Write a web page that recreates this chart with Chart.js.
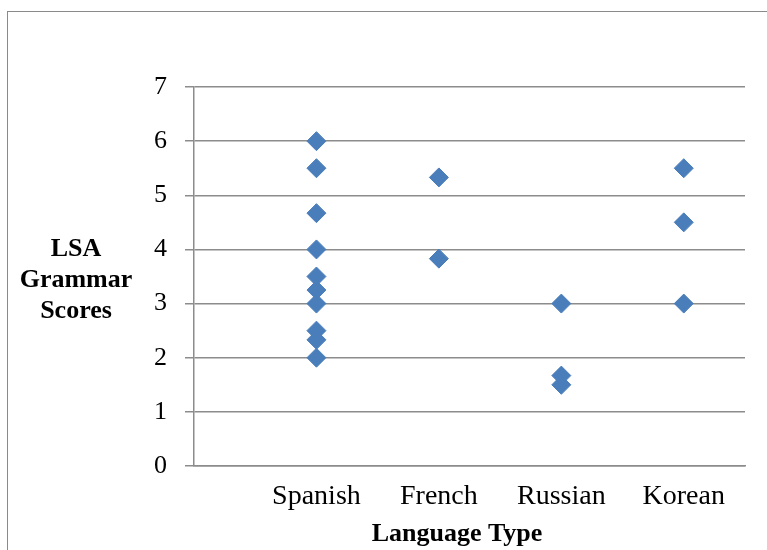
<!DOCTYPE html>
<html>
<head>
  <meta charset="utf-8">
  <title>LSA Grammar Scores by Language Type</title>
  <script src="https://cdn.jsdelivr.net/npm/chart.js@4"></script>
  <style>
    html, body { margin: 0; padding: 0; background: #fff; overflow: hidden; }
    #wrap { position: relative; width: 767px; height: 550px; }
    #frame { position: absolute; left: 7px; top: 11px; width: 820px; height: 600px; border: 1.5px solid #8a8a8a; box-sizing: border-box; }
    canvas { position: absolute; left: 0; top: 0; }
  </style>
</head>
<body>
  <div id="wrap">
    <div id="frame"></div>
    <canvas id="chart" width="767" height="550"></canvas>
  </div>

  <script>
    // Categories on the x axis (placed at 1..4 like Excel's scatter)
    const languages = ['Spanish', 'French', 'Russian', 'Korean'];

    // Scores, one list per language
    const spanish = [6, 5.5, 4.67, 4, 3.5, 3.25, 3, 2.5, 2.33, 2];
    const french = [5.33, 3.83];
    const russian = [3, 1.67, 1.5];
    const korean = [5.5, 4.5, 3];

    const yTicks = [0, 1, 2, 3, 4, 5, 6, 7];
    const yTitle = ['LSA', 'Grammar', 'Scores'];
    const xTitle = 'Language Type';

    const groups = [spanish, french, russian, korean];
    const points = groups.flatMap((vals, i) => vals.map(v => ({ x: i + 1, y: v })));

    const FONT = "'Liberation Serif', 'Times New Roman', serif";
    const GRID = '#8c8c8c';

    // Horizontal y title and the x title, drawn after the chart
    const titles = {
      id: 'titles',
      afterDraw(chart) {
        const ctx = chart.ctx;
        ctx.save();
        ctx.fillStyle = '#000';
        ctx.textAlign = 'center';
        ctx.textBaseline = 'alphabetic';
        ctx.font = `bold 26px ${FONT}`;
        yTitle.forEach((t, i) => ctx.fillText(t, 76, 256 + i * 31));
        ctx.fillText(xTitle, 457, 541);
        ctx.restore();
      }
    };

    new Chart(document.getElementById('chart'), {
      type: 'scatter',
      data: {
        datasets: [{
          label: 'LSA Grammar Scores',
          data: points,
          pointStyle: 'rectRot',
          pointRadius: 9.5,
          pointHoverRadius: 9.5,
          backgroundColor: '#4A7EBB',
          borderColor: '#4A7EBB',
          borderWidth: 1
        }]
      },
      plugins: [titles],
      options: {
        responsive: false,
        devicePixelRatio: 1,
        animation: false,
        layout: { padding: { left: 0, top: 87, right: 22, bottom: 0 } },
        plugins: { legend: { display: false }, tooltip: { enabled: false } },
        scales: {
          x: {
            type: 'linear',
            min: 0,
            max: 4.5,
            afterBuildTicks: s => { s.ticks = languages.map((_, i) => ({ value: i + 1 })); },
            afterFit: s => { s.height = 84; },
            grid: { display: false, drawTicks: false },
            border: { display: true, color: GRID, width: 1.5 },
            ticks: {
              callback: v => languages[v - 1] || '',
              color: '#000',
              font: { family: FONT, size: 28 },
              padding: 14,
              maxRotation: 0,
              autoSkip: false
            }
          },
          y: {
            min: 0,
            max: 7,
            afterBuildTicks: s => { s.ticks = yTicks.map(v => ({ value: v })); },
            afterFit: s => { s.width = 194; },
            grid: { color: GRID, lineWidth: 1.5, tickLength: 9 },
            border: { display: true, color: GRID, width: 1.5 },
            ticks: {
              color: '#000',
              font: { family: FONT, size: 26 },
              padding: 18
            }
          }
        }
      }
    });
  </script>
</body>
</html>
